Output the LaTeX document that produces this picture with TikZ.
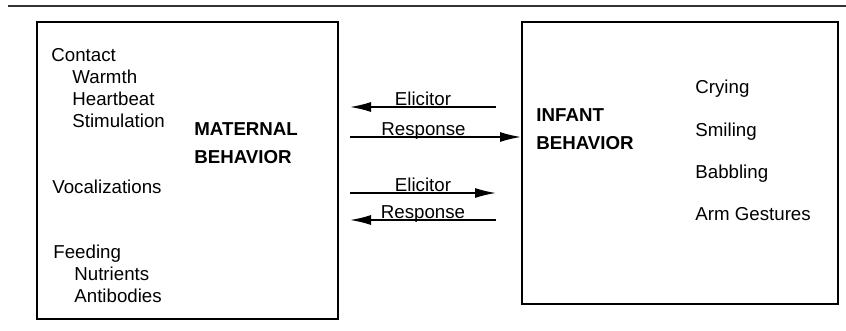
\documentclass[tikz,border=0pt]{standalone}
\usepackage{fontspec}
\setmainfont{Liberation Sans}
\usetikzlibrary{arrows.meta,positioning}

\tikzset{
  box/.style={draw, line width=1pt, inner sep=0pt},
  item/.style={anchor=base west, inner sep=0pt, font=\fontsize{9.35}{11}\selectfont},
  title/.style={item, font=\fontsize{9.35}{11}\selectfont\bfseries},
  flow/.style={-{Latex[length=10.5pt,width=5pt]}, line width=0.8pt},
  lbl/.style={anchor=base, inner sep=0pt, yshift=0.6pt, font=\fontsize{9.35}{11}\selectfont}
}

\begin{document}
\begin{tikzpicture}[x=0.5pt,y=-0.5pt]
  \useasboundingbox (0,0) rectangle (846,331);
  \draw[line width=0.8pt, black!80] (8,6) -- (846,6);

  % the two boxes
  \node[box, minimum width=150.5pt, minimum height=148.5pt] (mat) at (187.5,170.5) {};
  \node[box, minimum width=158pt, minimum height=141pt] (inf) at (680,163) {};

  % maternal side
  \node[item] (contact) at (51,62) {Contact};
  \node[item] (warmth) at (72,84) {Warmth};
  \node[item] (heart) at (72,106) {Heartbeat};
  \node[item] (stim) at (72,128) {Stimulation};
  \node[title] (matA) at (194,136) {MATERNAL};
  \node[title] (matB) at (194,164) {BEHAVIOR};
  \node[item] (vocal) at (52,194) {Vocalizations};
  \node[item] (feed) at (53,259) {Feeding};
  \node[item] (nutr) at (74,281) {Nutrients};
  \node[item] (anti) at (74,303) {Antibodies};

  % infant side
  \node[title] (infA) at (536,122) {INFANT};
  \node[title] (infB) at (536,150) {BEHAVIOR};
  \node[item] (cry) at (695,94) {Crying};
  \node[item] (smile) at (695,137) {Smiling};
  \node[item] (babble) at (695,179) {Babbling};
  \node[item] (arm) at (695,221) {Arm Gestures};

  % arrow ends
  \coordinate (eA) at (496,107);
  \coordinate (eAl) at (350,107);
  \coordinate (rA) at (350,137);
  \coordinate (eB) at (350,193);
  \coordinate (eBr) at (496,193);
  \coordinate (rB) at (496,220);
  \coordinate (rBl) at (350,220);

  \draw[flow] (eA) -- (eAl) node[lbl, midway] {Elicitor};
  \draw[flow] (rA) -- (rA -| inf.west) node[lbl, pos=0.43] {Response};
  \draw[flow] (eB) -- (eBr) node[lbl, midway] {Elicitor};
  \draw[flow] (rB) -- (rBl) node[lbl, midway] {Response};
\end{tikzpicture}
\end{document}
